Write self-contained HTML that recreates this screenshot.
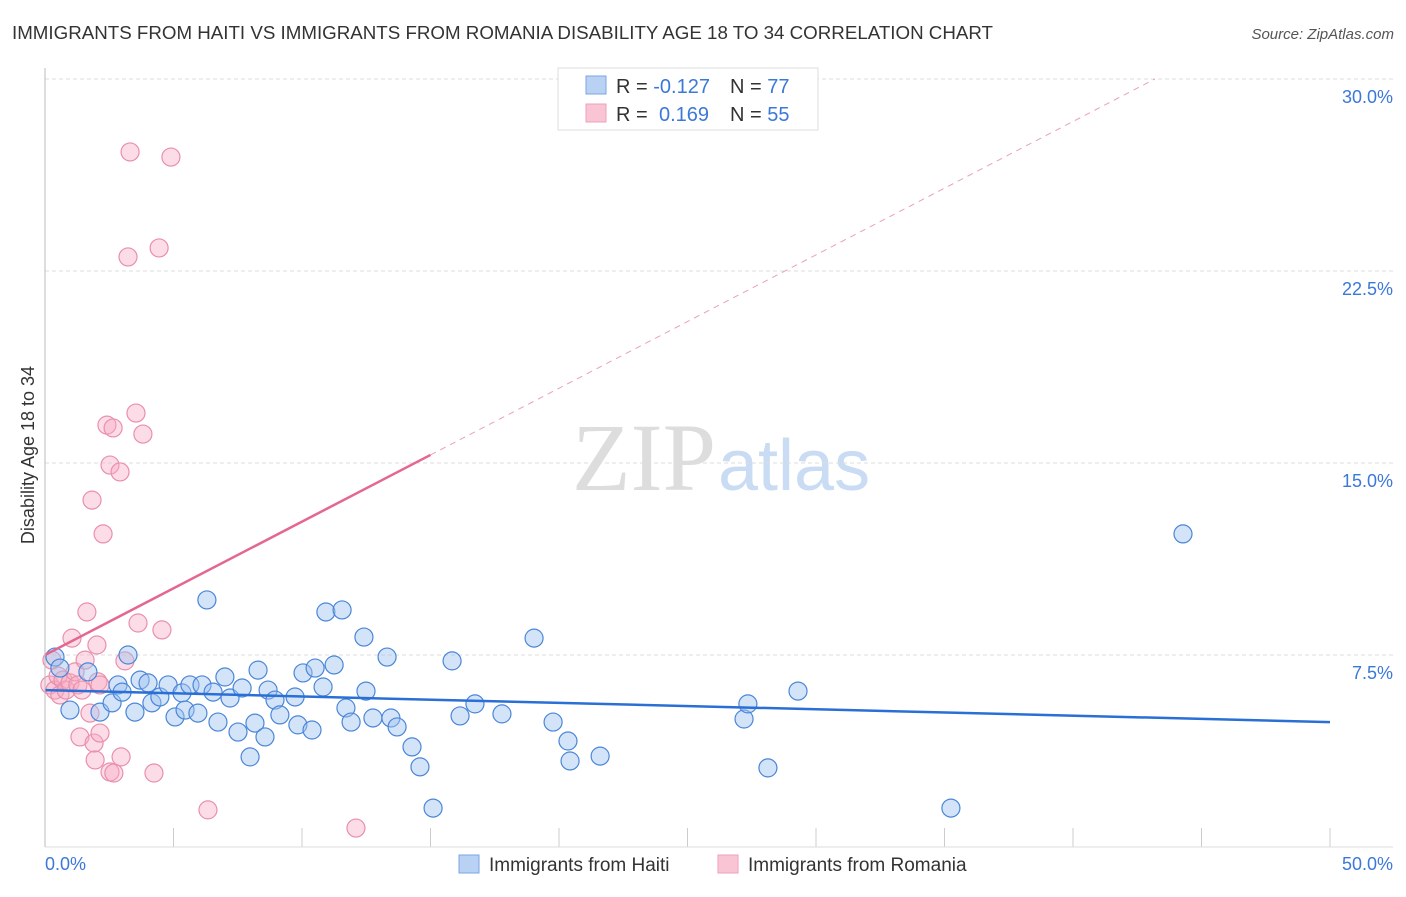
<!DOCTYPE html>
<html><head><meta charset="utf-8"><style>
body{margin:0;background:#fff;font-family:"Liberation Sans",sans-serif}
</style></head><body>
<svg id="c" width="1406" height="892" xmlns="http://www.w3.org/2000/svg" font-family="Liberation Sans, sans-serif">
<text x="12" y="39" font-size="18" fill="#333" textLength="981" lengthAdjust="spacingAndGlyphs">IMMIGRANTS FROM HAITI VS IMMIGRANTS FROM ROMANIA DISABILITY AGE 18 TO 34 CORRELATION CHART</text>
<text x="1394" y="39" font-size="15" fill="#555" font-style="italic" text-anchor="end">Source: ZipAtlas.com</text>
<text x="716" y="490" font-size="96" fill="#ddd" text-anchor="end" font-family="Liberation Serif, serif">ZIP</text>
<text x="718" y="490" font-size="72" fill="#c9dcf3">atlas</text>
<text transform="translate(34,455) rotate(-90)" font-size="18" fill="#333" text-anchor="middle">Disability Age 18 to 34</text>
<g id="grid"></g><g id="marks"></g><g id="lines"></g>
<line x1="45" y1="68" x2="45" y2="847" stroke="#bbb"/>
<line x1="45" y1="847" x2="1393" y2="847" stroke="#ddd"/>
<text x="45" y="870" font-size="18" fill="#3b78d8">0.0%</text>
<text x="1393" y="870" font-size="18" fill="#3b78d8" text-anchor="end">50.0%</text>
<g>
<rect x="558" y="68" width="260" height="62" fill="#fff" stroke="#ddd"/>
<rect x="586" y="76" width="20" height="18" fill="#b9d1f3" stroke="#7aa6e6"/>
<rect x="586" y="104" width="20" height="18" fill="#f9c4d4" stroke="#eea0b8"/>
<text x="616" y="93" font-size="20" fill="#333">R = <tspan fill="#3b78d8">-0.127</tspan><tspan x="730">N = </tspan><tspan fill="#3b78d8">77</tspan></text>
<text x="616" y="121" font-size="20" fill="#333">R = <tspan fill="#3b78d8" x="659">0.169</tspan><tspan x="730">N = </tspan><tspan fill="#3b78d8">55</tspan></text>
</g>
<g>
<rect x="459" y="855" width="20" height="18" fill="#b9d1f3" stroke="#7aa6e6"/>
<text x="489" y="871" font-size="19" fill="#333">Immigrants from Haiti</text>
<rect x="718" y="855" width="20" height="18" fill="#f9c4d4" stroke="#eea0b8"/>
<text x="748" y="871" font-size="19" fill="#333">Immigrants from Romania</text>
</g>
</svg>
<script>
const yTicks=[7.5,15,22.5,30];
const yTickLabels=["7.5%","15.0%","22.5%","30.0%"];
const xTicks=[5,10,15,20,25,30,35,40,45,50];
const haitiX=[0.39,0.58,0.97,1.67,2.14,2.61,2.84,3.00,3.23,3.50,3.70,4.01,4.16,4.47,4.79,5.06,5.33,5.45,5.64,5.95,6.11,6.30,6.54,6.73,7.00,7.20,7.51,7.67,7.98,8.17,8.29,8.56,8.68,8.95,9.14,9.73,9.84,10.04,10.39,10.51,10.82,10.93,11.25,11.56,11.71,11.91,12.41,12.49,12.76,13.31,13.46,13.70,14.28,14.59,15.10,15.84,16.15,16.73,17.78,19.03,19.77,20.35,20.43,21.60,27.20,27.35,28.13,29.30,35.25,44.28];
const haitiY=[7.42,6.99,5.35,6.84,5.27,5.63,6.33,6.05,7.50,5.27,6.52,6.41,5.63,5.86,6.33,5.08,6.02,5.35,6.33,5.23,6.33,9.65,6.05,4.88,6.64,5.82,4.49,6.21,3.52,4.84,6.91,4.30,6.13,5.74,5.16,5.86,4.77,6.80,4.57,6.99,6.25,9.18,7.11,9.26,5.43,4.88,8.20,6.09,5.04,7.42,5.04,4.69,3.91,3.13,1.52,7.27,5.12,5.59,5.20,8.16,4.88,4.14,3.36,3.55,5.00,5.59,3.09,6.09,1.52,12.23];
const romX=[0.19,0.27,0.39,0.51,0.58,0.70,0.82,0.97,1.05,1.17,1.28,1.36,1.44,1.56,1.63,1.75,1.83,1.91,1.95,2.02,2.06,2.14,2.14,2.26,2.41,2.53,2.53,2.65,2.68,2.92,2.96,3.11,3.23,3.31,3.54,3.62,3.81,4.24,4.44,4.55,4.90,6.34,12.10];
const romY=[6.33,7.30,6.13,6.68,5.94,6.52,6.13,6.41,8.16,6.84,6.33,4.30,6.13,7.30,9.18,5.23,13.55,4.06,3.40,7.89,6.45,4.45,6.33,12.23,16.48,14.92,2.93,16.37,2.89,14.65,3.52,7.27,23.05,27.15,16.95,8.75,16.13,2.89,23.40,8.48,26.95,1.45,0.74];
const haitiTrend=[6.13,4.88];
const romTrend=[7.5,0.521];
const sx=v=>45+v*25.7, sy=v=>847-v*25.6;
const NS="http://www.w3.org/2000/svg";
function mk(t,a,p){const e=document.createElementNS(NS,t);for(const k in a)e.setAttribute(k,a[k]);p.appendChild(e);return e;}
const grid=document.getElementById('grid'),marks=document.getElementById('marks'),lines=document.getElementById('lines');
yTicks.forEach((v,i)=>{
 const l=mk('line',{x1:45,x2:1393,y1:sy(v),y2:sy(v),stroke:'#ddd','stroke-dasharray':'4,3'},grid);
 
 
 const t=mk('text',{x:1393,y:sy(v)+24,'font-size':18,fill:'#3b78d8','text-anchor':'end'},grid);
 t.textContent=yTickLabels[i];
 
 
});
xTicks.forEach(v=>{
 const l=mk('line',{x1:sx(v),x2:sx(v),y1:828,y2:847,stroke:'#ccc'},grid);
 
 
});
romX.forEach((x,i)=>{
 const c=mk('circle',{cx:sx(x),cy:sy(romY[i]),r:9,fill:'rgba(247,170,195,0.4)',stroke:'#ea8fac','stroke-width':1.2},marks);
 
 
});
haitiX.forEach((x,i)=>{
 const c=mk('circle',{cx:sx(x),cy:sy(haitiY[i]),r:9,fill:'rgba(160,195,240,0.45)',stroke:'#4a86d8','stroke-width':1.2},marks);
 
 
});
let l=mk('line',{x1:sx(0),y1:sy(haitiTrend[0]),x2:sx(50),y2:sy(haitiTrend[1]),stroke:'#2a6fd6','stroke-width':2.5},lines);


const rEnd=15;
l=mk('line',{x1:sx(0),y1:sy(romTrend[0]),x2:sx(rEnd),y2:sy(romTrend[0]+romTrend[1]*rEnd),stroke:'#e4678f','stroke-width':2.5},lines);


const dEnd=(30-romTrend[0])/romTrend[1];
l=mk('line',{x1:sx(rEnd),y1:sy(romTrend[0]+romTrend[1]*rEnd),x2:sx(dEnd),y2:sy(30),stroke:'#eaa0b8','stroke-width':1,'stroke-dasharray':'6,5'},lines);


</script>
</body></html>
